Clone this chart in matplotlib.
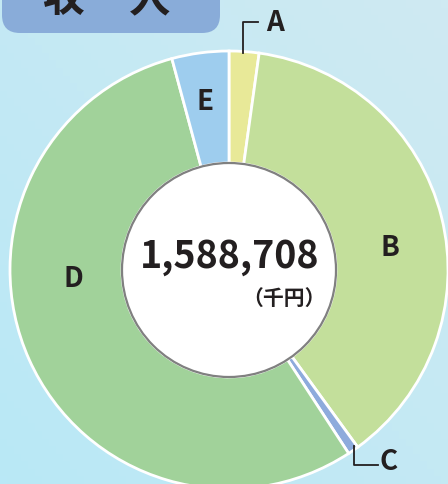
import numpy as np
import matplotlib.pyplot as plt
from matplotlib.patches import Circle, FancyBboxPatch

plt.rcParams['font.family'] = ['Noto Sans CJK JP', 'DejaVu Sans']

# revenue breakdown (千円)
labels = ["A", "B", "C", "D", "E"]
values = [34950, 600530, 12710, 873790, 66728]
colors = ["#e8e998", "#c3df9b", "#8eabdc", "#a1d29a", "#9ecdee"]
total_text = "1,588,708"
unit_text = "（千円）"
title_chars = ["収", "入"]

W, H = 448, 484
fig = plt.figure(figsize=(W / 100, H / 100), dpi=100)
ax = fig.add_axes([0, 0, 1, 1])

# soft blue background
gx, gy = np.meshgrid(np.linspace(0, 1, 64), np.linspace(0, 1, 64))
grad = (gx + (1 - gy)) / 2
bg = plt.cm.colors.LinearSegmentedColormap.from_list("bg", ["#b9e8f6", "#cfeaf2"])
ax.imshow(grad, cmap=bg, extent=[0, W, 0, H], aspect="auto", zorder=0)

# title tab (runs off the top edge like the original)
tab = FancyBboxPatch((2, H - 33), 218, 80, boxstyle="round,pad=0,rounding_size=18",
                     fc="#89acd9", ec="none", zorder=1)
ax.add_patch(tab)
ax.text(63, H + 1, title_chars[0], ha="center", va="center", fontsize=30,
        fontweight="bold", color="#231f20", zorder=2)
ax.text(150, H + 1, title_chars[1], ha="center", va="center", fontsize=30,
        fontweight="bold", color="#231f20", zorder=2)

# donut
cx, cy, r_out, r_in = 229, H - 270, 219, 107
ax.pie(values, colors=colors, startangle=90, counterclock=False, center=(cx, cy),
       radius=r_out, frame=True,
       wedgeprops=dict(width=r_out - r_in, edgecolor="white", linewidth=2))
ax.set_xlim(0, W)
ax.set_ylim(0, H)
ax.axis("off")
ax.add_patch(Circle((cx, cy), r_in, fc="white", ec="#808080", lw=1.6, zorder=5))

ax.text(cx + 1, H - 256, total_text, ha="center", va="center", fontsize=27,
        fontweight="bold", color="#231f20", zorder=6)
ax.text(284, H - 298, unit_text, ha="center", va="center", fontsize=15,
        fontweight="bold", color="#231f20", zorder=6)

# segment labels
lab_kw = dict(ha="center", va="center", fontsize=20, fontweight="bold", color="#231f20")
ax.text(390, H - 248, labels[1], **lab_kw)
ax.text(73, H - 279, labels[3], **lab_kw)
ax.text(205, H - 102, labels[4], **lab_kw)
ax.text(275, H - 23, labels[0], **lab_kw)
ax.text(389, H - 462, labels[2], **lab_kw)

# leader lines for the thin slices
ax.plot([243, 243, 258], [H - 53, H - 22, H - 22], color="#231f20", lw=1.3)
ax.plot([354, 354, 378], [H - 446, H - 465, H - 465], color="#231f20", lw=1.3)

fig.savefig("out.png", dpi=100)
